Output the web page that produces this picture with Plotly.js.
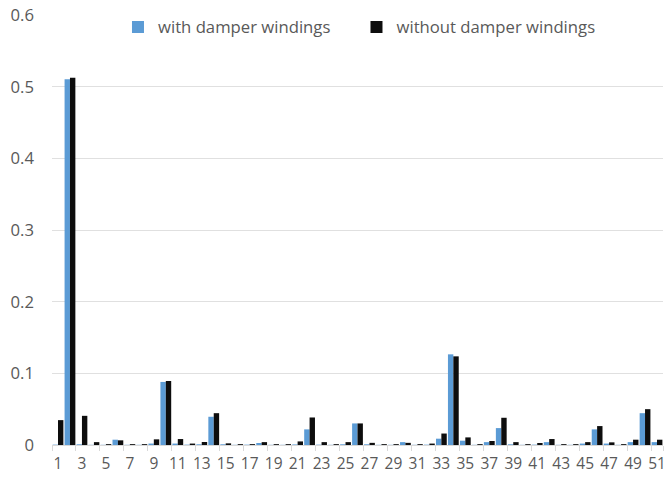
<!DOCTYPE html>
<html>
<head>
<meta charset="utf-8">
<script src="https://cdn.plot.ly/plotly-3.0.1.min.js"></script>
<style>
  html, body { margin: 0; padding: 0; background: #fff; }
  #chart { width: 666px; height: 477px; }
</style>
</head>
<body>
<div id="chart"></div>
<script>
// Harmonic orders 1..51
const harmonics = Array.from({length: 51}, (_, i) => String(i + 1));
const tickLabels = harmonics.filter((_, i) => i % 2 === 0);

// Value axis ticks
const yTicks = [0, 0.1, 0.2, 0.3, 0.4, 0.5, 0.6];
const yTickText = ['0', '0.1', '0.2', '0.3', '0.4', '0.5', '0.6'];

const seriesNames = ['with damper windings', 'without damper windings'];

const withDamper = [
  0.0005, 0.5105, 0.001, 0.0003, 0.0003, 0.0074, 0.0003, 0.0003, 0.002, 0.088,
  0.002, 0.0005, 0.001, 0.0394, 0.001, 0.0003, 0.0005, 0.0028, 0.0003, 0.0003,
  0.0008, 0.0218, 0.0005, 0.0003, 0.001, 0.0301, 0.001, 0.0003, 0.0003, 0.004,
  0.0003, 0.0005, 0.0088, 0.1265, 0.006, 0.0003, 0.004, 0.0236, 0.001, 0.0003,
  0.0005, 0.004, 0.0003, 0.0003, 0.002, 0.0218, 0.002, 0.0003, 0.004, 0.0444,
  0.004
];

const withoutDamper = [
  0.0347, 0.5123, 0.0407, 0.004, 0.0012, 0.0065, 0.0012, 0.0012, 0.0079, 0.0893,
  0.0083, 0.002, 0.0042, 0.0444, 0.0023, 0.0012, 0.0012, 0.004, 0.0012, 0.0012,
  0.005, 0.0384, 0.004, 0.0012, 0.004, 0.0301, 0.003, 0.0012, 0.0012, 0.003,
  0.0012, 0.002, 0.016, 0.1237, 0.0106, 0.0012, 0.0056, 0.038, 0.004, 0.0012,
  0.0028, 0.0083, 0.0012, 0.0012, 0.004, 0.0264, 0.0037, 0.0012, 0.0074, 0.05,
  0.0074
];

const FONT = '"Open Sans", "Noto Sans", sans-serif';
const GREY = '#595959';
const SIZE = 16.7;

const traces = [
  { type: 'bar', name: seriesNames[0], x: harmonics, y: withDamper,
    marker: { color: '#5B9BD5' } },
  { type: 'bar', name: seriesNames[1], x: harmonics, y: withoutDamper,
    marker: { color: '#0D0D0D' } }
];

const layout = {
  width: 666, height: 477,
  margin: { l: 52, r: 3, t: 15, b: 32 },
  paper_bgcolor: '#fff', plot_bgcolor: '#fff',
  font: { family: FONT, size: SIZE, color: GREY },
  barmode: 'group', bargap: 0.1, bargroupgap: 0,
  showlegend: true,
  legend: {
    orientation: 'h', x: 0.108, xanchor: 'left', y: 0.972, yanchor: 'middle',
    entrywidth: 193.5, entrywidthmode: 'pixels',
    font: { family: FONT, size: SIZE, color: GREY },
    bgcolor: 'rgba(0,0,0,0)'
  },
  xaxis: {
    type: 'category',
    tickmode: 'array', tickvals: tickLabels, ticktext: tickLabels,
    tickangle: 0,
    tickson: 'boundaries', ticks: 'outside', ticklen: 5, tickcolor: '#D9D9D9',
    ticklabelstandoff: 4,
    showline: true, linecolor: '#D9D9D9', linewidth: 1,
    showgrid: false, zeroline: false,
    tickfont: { family: FONT, size: 15.5, color: GREY }
  },
  yaxis: {
    range: [0, 0.6],
    tickmode: 'array', tickvals: yTicks, ticktext: yTickText,
    showgrid: true, gridcolor: '#E0E0E0', gridwidth: 1,
    zeroline: false, ticks: '', ticklabelstandoff: 17,
    tickfont: { family: FONT, size: SIZE, color: GREY }
  }
};

Plotly.newPlot('chart', traces, layout, { displayModeBar: false, staticPlot: true });
</script>
</body>
</html>
